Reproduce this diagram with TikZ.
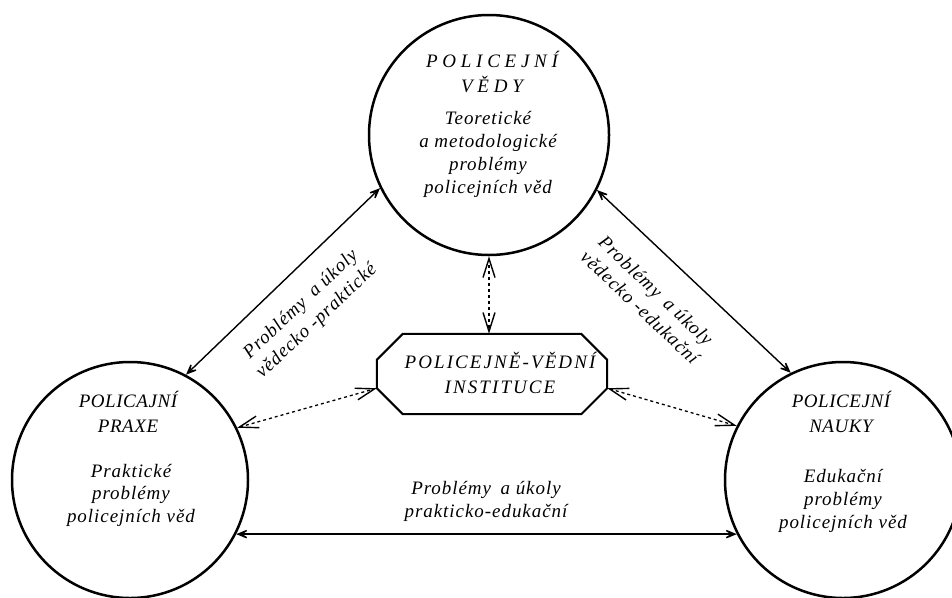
\documentclass[tikz,border=0pt]{standalone}
\usepackage{fontspec}
\setmainfont{Liberation Serif}
\newfontfamily\wcaps[LetterSpace=25]{Liberation Serif Italic}
\newfontfamily\ncaps[LetterSpace=3]{Liberation Serif Italic}
\newfontfamily\ocaps[LetterSpace=11]{Liberation Serif Italic}
\newfontfamily\txt[LetterSpace=5]{Liberation Serif Italic}
\usetikzlibrary{arrows.meta,calc}
\begin{document}
\begin{tikzpicture}[x=1pt,y=-1pt,
  ring/.style={circle, draw, line width=2.5pt, inner sep=0pt},
  oct/.style={line width=2pt, line join=miter},
  lbl/.style={align=center, inner sep=0pt, font=\fontsize{19}{23}\txt},
  hd/.style={align=center, inner sep=0pt, anchor=base},
  solidarr/.style={line width=1.4pt, {Stealth[length=18pt,width=15pt,inset=12pt]}-{Stealth[length=18pt,width=15pt,inset=12pt]}},
  dasharr/.style={line width=1.3pt, dash pattern=on 3pt off 3pt, {Straight Barb[length=19pt,width=12pt,line width=1.4pt]}-{Straight Barb[length=19pt,width=12pt,line width=1.4pt]}}
]
\useasboundingbox (0,0) rectangle (952,597);
\fill[white] (0,0) rectangle (952,597);

% circles
\node[ring, minimum size=240pt] (sci) at (489,135) {};
\node[ring, minimum size=236pt] (prax) at (130,480) {};
\node[ring, minimum size=236pt] (nauk) at (843,480) {};

% octagon
\node[inner sep=0pt, minimum width=230pt, minimum height=80pt] (inst) at (492,374) {};
\draw[oct] ($(inst.north west)+(26,0)$) -- ($(inst.north east)+(-26,0)$) -- ($(inst.north east)+(0,26)$) -- ($(inst.south east)+(0,-26)$) -- ($(inst.south east)+(-26,0)$) -- ($(inst.south west)+(26,0)$) -- ($(inst.south west)+(0,-26)$) -- ($(inst.north west)+(0,26)$) -- cycle;
\coordinate (ilv) at ($(inst.south west)+(0,-26)$);
\coordinate (irv) at ($(inst.south east)+(0,-26)$);

% texts (base anchor = last line baseline)
\node[hd, font=\fontsize{19}{25}\wcaps] (scih) at (492,92) {POLICEJNÍ\\VĚDY};
\node[hd, font=\fontsize{19}{22.7}\txt] (scib) at (488,193) {Teoretické\\a metodologické\\problémy\\policejních věd};
\node[hd, font=\fontsize{19}{25}\ncaps] (praxh) at (128,432) {POLICAJNÍ\\PRAXE};
\node[hd, font=\fontsize{19}{22.5}\txt] (praxb) at (131,522) {Praktické\\problémy\\policejních věd};
\node[hd, font=\fontsize{19}{25}\ncaps] (naukh) at (841,432) {POLICEJNÍ\\NAUKY};
\node[hd, font=\fontsize{19}{23}\txt] (naukb) at (843,528) {Edukační\\problémy\\policejních věd};
\node[hd, font=\fontsize{19}{25}\ocaps] (insttxt) at (500,393) {POLICEJNĚ-VĚDNÍ\\INSTITUCE};

% connectors
\draw[solidarr] (sci.206.8) -- (prax.62.2);
\draw[solidarr] (sci.-27.6) -- (nauk.116.3);
\draw[solidarr] (prax.-27.2) -- (nauk.207.2);
\draw[dasharr] (sci.south) -- (sci.south |- inst.north);
\draw[dasharr] (prax.26.1) -- (ilv);
\draw[dasharr] (nauk.153.4) -- (irv);

% connector labels
\node[lbl, rotate=43.3] (labl) at (309,313) {Problémy\enspace a úkoly\\vědecko -praktické};
\node[lbl, rotate=-43.5] (labr) at (648,299) {Problémy\enspace a úkoly\\vědecko -edukační};
\node[lbl, anchor=base] (labb) at (486,517) {Problémy\enspace a úkoly\\prakticko-edukační};
\end{tikzpicture}
\end{document}
